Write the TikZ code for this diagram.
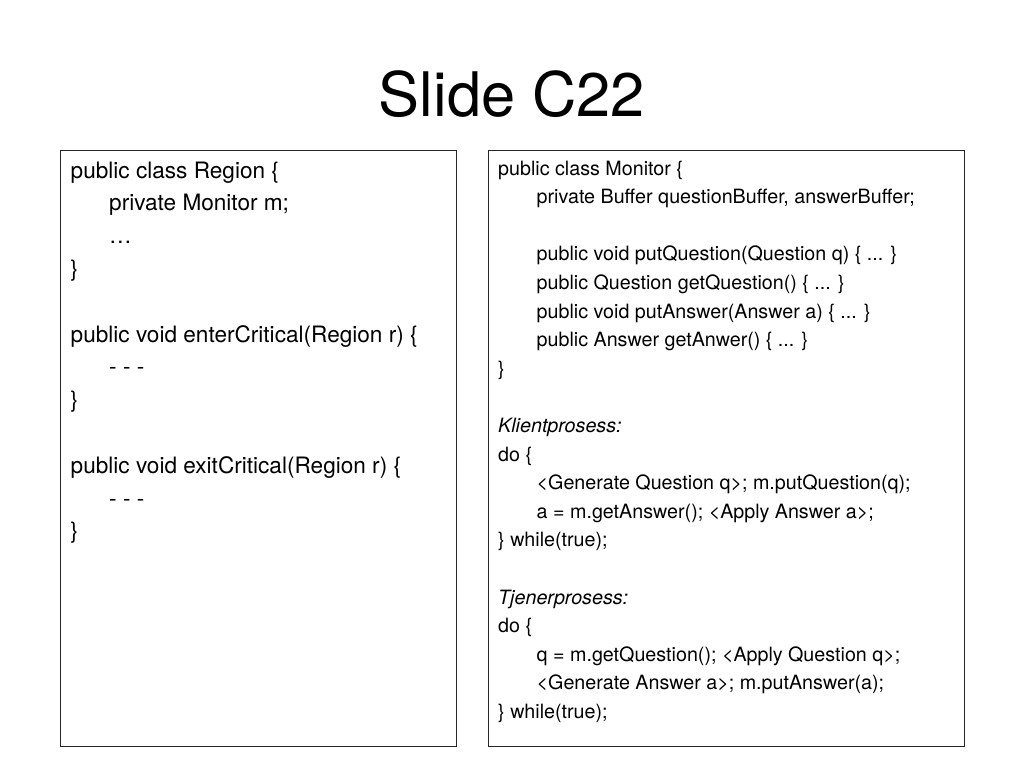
\documentclass[tikz,border=0pt]{standalone}
\usepackage{fontspec}
\setmainfont{TeX Gyre Heros}
\begin{document}
\begin{tikzpicture}[x=1pt,y=-1pt,
  panel/.style={draw=black!85,line width=1pt},
  lcode/.style={anchor=base west,inner sep=0pt,font=\fontsize{22.6}{26}\selectfont},
  rcode/.style={anchor=base west,inner sep=0pt,font=\fontsize{19.7}{23}\selectfont},
  titletext/.style={anchor=base,inner sep=0pt,font=\fontsize{61.4}{70}\selectfont}]
\useasboundingbox[fill=white] (0,0) rectangle (1024,768);
\node[titletext] (title) at (512,116.7) {Slide C22};
% panels
\draw[panel] (60,150) rectangle (456,746);
\draw[panel] (488,150) rectangle (964,746);
% left panel
\node[lcode] (l0) at (70.5,178) {public class Region \{};
\node[lcode] (l1) at (109,210.8) {private Monitor m;};
\node[lcode] (l2) at (109,243.6) {…};
\node[lcode] (l3) at (70.5,276.4) {\}};
\node[lcode] (l5) at (70.5,342) {public void enterCritical(Region r) \{};
\node[lcode] (l6) at (109,374.8) {- - -};
\node[lcode] (l7) at (70.5,407.6) {\}};
\node[lcode] (l9) at (70.5,473.2) {public void exitCritical(Region r) \{};
\node[lcode] (l10) at (109,506) {- - -};
\node[lcode] (l11) at (70.5,538.8) {\}};
% right panel
\node[rcode] (r0) at (498,175) {public class Monitor \{};
\node[rcode] (r1) at (536.5,203.6) {private Buffer questionBuffer, answerBuffer;};
\node[rcode] (r3) at (536.5,260.8) {public void putQuestion(Question q) \{ ... \}};
\node[rcode] (r4) at (536.5,289.4) {public Question getQuestion() \{ ... \}};
\node[rcode] (r5) at (536.5,318) {public void putAnswer(Answer a) \{ ... \}};
\node[rcode] (r6) at (536.5,346.6) {public Answer getAnwer() \{ ... \}};
\node[rcode] (r7) at (498,375.2) {\}};
\node[rcode] (r9) at (498,432.4) {\itshape Klientprosess:};
\node[rcode] (r10) at (498,461) {do \{};
\node[rcode] (r11) at (536.5,489.6) {<Generate Question q>; m.putQuestion(q);};
\node[rcode] (r12) at (536.5,518.2) {a = m.getAnswer(); <Apply Answer a>;};
\node[rcode] (r13) at (498,546.8) {\} while(true);};
\node[rcode] (r15) at (498,604) {\itshape Tjenerprosess:};
\node[rcode] (r16) at (498,632.6) {do \{};
\node[rcode] (r17) at (536.5,661.2) {q = m.getQuestion(); <Apply Question q>;};
\node[rcode] (r18) at (536.5,689.8) {<Generate Answer a>; m.putAnswer(a);};
\node[rcode] (r19) at (498,718.4) {\} while(true);};
\end{tikzpicture}
\end{document}
